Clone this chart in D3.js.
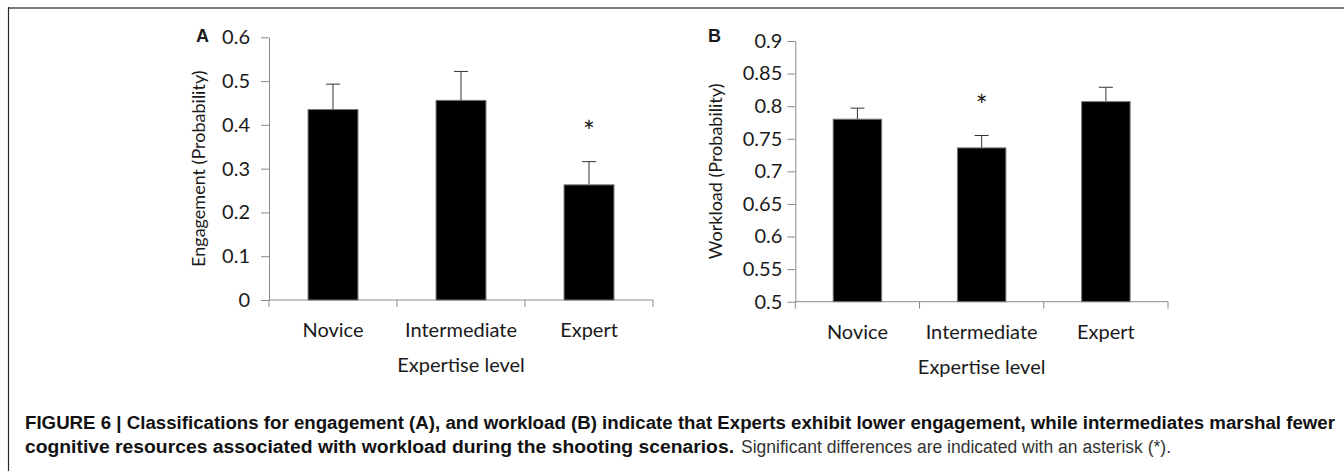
<!DOCTYPE html>
<html>
<head>
<meta charset="utf-8">
<script src="https://cdn.jsdelivr.net/npm/d3@7"></script>
<style>
  html, body { margin: 0; padding: 0; background: #fff; }
  svg { display: block; }
</style>
</head>
<body>
<svg id="fig" width="1344" height="471"></svg>
<script>
// ---- data ----
const categories = ["Novice", "Intermediate", "Expert"];

const engagementMean = [0.435, 0.456, 0.263];
const engagementErr  = [0.058, 0.066, 0.053];
const engagementTicks = [0, 0.1, 0.2, 0.3, 0.4, 0.5, 0.6];
const engagementSignif = [false, false, true];

const workloadMean = [0.780, 0.736, 0.807];
const workloadErr  = [0.017, 0.019, 0.022];
const workloadTicks = [0.5, 0.55, 0.6, 0.65, 0.7, 0.75, 0.8, 0.85, 0.9];
const workloadSignif = [false, true, false];

const captionBold1 = "FIGURE 6 | Classifications for engagement (A), and workload (B) indicate that Experts exhibit lower engagement, while intermediates marshal fewer";
const captionBold2 = "cognitive resources associated with workload during the shooting scenarios.";
const captionRest2 = "Significant differences are indicated with an asterisk (*).";

// ---- layout ----
const svg = d3.select("#fig");
const FONT = "Lato, 'Open Sans', sans-serif";
const AXIS = "#8a8a8a";
const INK = "#1a1a1a";

// figure frame
svg.append("line").attr("x1", 8).attr("x2", 1344).attr("y1", 8).attr("y2", 8)
  .attr("stroke", "#7a7a7a").attr("stroke-width", 2);
svg.append("line").attr("x1", 8.5).attr("x2", 8.5).attr("y1", 7).attr("y2", 471)
  .attr("stroke", "#2a2a2a").attr("stroke-width", 1.2);

function panel(opts) {
  const { x0, x1, yTop, yBot, domain, ticks, fmt, means, errs, signif,
          letter, letterX, letterY, yTitle, yTitleX, tickPad } = opts;
  const g = svg.append("g");

  const x = d3.scaleBand().domain(categories).range([x0, x1])
    .paddingInner(0.61).paddingOuter(0.305);
  const y = d3.scaleLinear().domain(domain).range([yBot, yTop]);

  // y axis
  const yAxis = g.append("g").attr("transform", `translate(${x0},0)`)
    .call(d3.axisLeft(y).tickValues(ticks).tickFormat(fmt)
      .tickSize(8).tickSizeOuter(0).tickPadding(tickPad));
  yAxis.select(".domain").attr("stroke", AXIS);
  yAxis.selectAll(".tick line").attr("stroke", AXIS);
  yAxis.selectAll(".tick text").attr("fill", INK)
    .style("font-family", FONT).style("font-size", "20px");

  // x axis: baseline with boundary ticks, category labels beneath
  g.append("line").attr("x1", x0).attr("x2", x1).attr("y1", yBot).attr("y2", yBot)
    .attr("stroke", AXIS);
  const bounds = [x0].concat(categories.map(c => x(c) + x.bandwidth() + x.step() * x.paddingInner() / 2));
  g.selectAll(".xb").data(bounds).join("line")
    .attr("x1", d => d).attr("x2", d => d)
    .attr("y1", yBot).attr("y2", yBot + 7).attr("stroke", AXIS);
  g.selectAll(".cat").data(categories).join("text")
    .attr("x", d => x(d) + x.bandwidth() / 2).attr("y", yBot + 37)
    .attr("text-anchor", "middle").attr("fill", INK)
    .style("font-family", FONT).style("font-size", "20px").text(d => d);

  g.append("text").attr("x", (x0 + x1) / 2).attr("y", yBot + 72)
    .attr("text-anchor", "middle").attr("fill", INK)
    .style("font-family", FONT).style("font-size", "20px").text("Expertise level");

  // y title
  g.append("text")
    .attr("transform", `translate(${yTitleX},${(yTop + yBot) / 2}) rotate(-90)`)
    .attr("text-anchor", "middle").attr("fill", INK)
    .style("font-family", FONT).style("font-size", "18px").text(yTitle);

  // panel letter
  g.append("text").attr("x", letterX).attr("y", letterY).attr("fill", INK)
    .style("font-family", "'Liberation Sans', Arial, sans-serif")
    .style("font-weight", "bold").style("font-size", "18px").text(letter);

  const rows = categories.map((c, i) => ({ c, m: means[i], e: errs[i], s: signif[i] }));

  // error bars (upper whisker only)
  g.selectAll(".eb").data(rows).join("line")
    .attr("x1", d => x(d.c) + x.bandwidth() / 2).attr("x2", d => x(d.c) + x.bandwidth() / 2)
    .attr("y1", d => y(d.m)).attr("y2", d => y(d.m + d.e))
    .attr("stroke", "#333").attr("stroke-width", 1);
  g.selectAll(".cap").data(rows).join("line")
    .attr("x1", d => x(d.c) + x.bandwidth() / 2 - 7).attr("x2", d => x(d.c) + x.bandwidth() / 2 + 7)
    .attr("y1", d => y(d.m + d.e)).attr("y2", d => y(d.m + d.e))
    .attr("stroke", "#333").attr("stroke-width", 1);

  // bars
  g.selectAll(".bar").data(rows).join("rect")
    .attr("x", d => x(d.c)).attr("width", x.bandwidth())
    .attr("y", d => y(d.m)).attr("height", d => yBot - y(d.m))
    .attr("fill", "#000").attr("stroke", "#777").attr("stroke-width", 1);

  // significance markers
  g.selectAll(".sig").data(rows.filter(d => d.s)).join("text")
    .attr("x", d => x(d.c) + x.bandwidth() / 2).attr("y", d => y(d.m + d.e) - 20)
    .attr("text-anchor", "middle").attr("fill", INK)
    .style("font-family", FONT).style("font-size", "28px").text("*");
}

panel({
  x0: 269, x1: 653, yTop: 37.3, yBot: 300, domain: [0, 0.6],
  ticks: engagementTicks, fmt: d => d === 0 ? "0" : d3.format(".1f")(d),
  means: engagementMean, errs: engagementErr, signif: engagementSignif,
  letter: "A", letterX: 196, letterY: 42, yTitle: "Engagement (Probability)",
  yTitleX: 205, tickPad: 11
});

panel({
  x0: 795.3, x1: 1168, yTop: 41, yBot: 301.7, domain: [0.5, 0.9],
  ticks: workloadTicks, fmt: d => d3.format("")(+d.toFixed(2)),
  means: workloadMean, errs: workloadErr, signif: workloadSignif,
  letter: "B", letterX: 708, letterY: 42, yTitle: "Workload (Probability)",
  yTitleX: 722, tickPad: 5
});

// caption: condensed lines, each fitted to its width
const CAP = "'Liberation Sans', Arial, sans-serif";
function capText(str, xPos, yPos, width, bold, color) {
  return svg.append("text").attr("x", xPos).attr("y", yPos).attr("fill", color)
    .style("font-family", CAP).style("font-size", "18px")
    .style("font-weight", bold ? "bold" : "normal")
    .attr("textLength", width).attr("lengthAdjust", "spacingAndGlyphs")
    .text(str);
}
capText(captionBold1, 25, 429, 1310, true, "#111");
capText(captionBold2, 25, 453, 709, true, "#111");
capText(captionRest2, 741, 453, 430, false, "#333");
</script>
</body>
</html>
